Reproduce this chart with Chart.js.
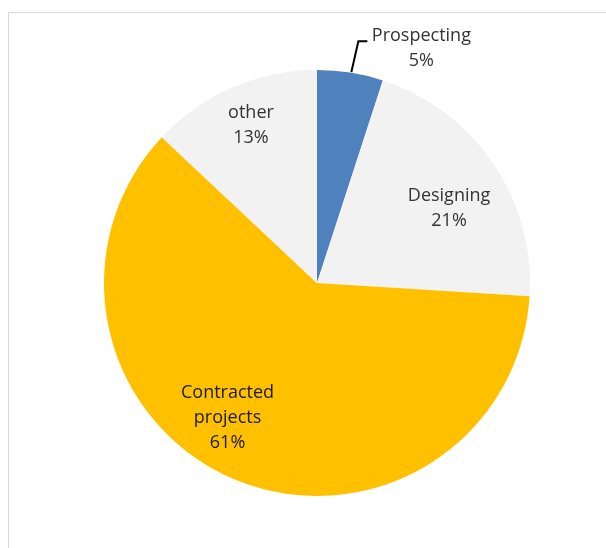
<!DOCTYPE html>
<html>
<head>
<meta charset="utf-8">
<script src="https://cdn.jsdelivr.net/npm/chart.js@4.4.0/dist/chart.umd.min.js"></script>
<style>
  body { margin: 0; background: #fff; }
  #wrap { position: relative; width: 606px; height: 548px; }
  #frame { position: absolute; left: 8px; top: 12px; width: 600px; height: 540px;
           border-left: 1px solid #d9d9d9; border-top: 1px solid #d9d9d9; }
  canvas { position: absolute; left: 0; top: 0; }
</style>
</head>
<body>
<div id="wrap">
  <div id="frame"></div>
  <canvas id="myChart" width="606" height="548"></canvas>
</div>
<script>
const categories = ["Prospecting", "Designing", "Contracted projects", "other"];
const shares = [5, 21, 61, 13];
const labelLines = [["Prospecting"], ["Designing"], ["Contracted", "projects"], ["other"]];
const sliceColors = ["#4f81bd", "#f2f2f2", "#ffc000", "#f2f2f2"];

// label anchors: offset from pie centre, in units of radius
const labelAnchors = [[0.49, -1.10], [0.62, -0.35], [-0.42, 0.635], [-0.31, -0.74]];

const sliceLabels = {
  id: 'sliceLabels',
  afterDatasetsDraw(chart) {
    const ctx = chart.ctx;
    const meta = chart.getDatasetMeta(0);
    ctx.save();
    ctx.font = '18px "Open Sans", "Noto Sans", sans-serif';
    ctx.textAlign = 'center';
    ctx.textBaseline = 'middle';
    meta.data.forEach((arc, i) => {
      const r = arc.outerRadius;
      const cx = arc.x + labelAnchors[i][0] * r;
      const cy = arc.y + labelAnchors[i][1] * r;
      const lines = labelLines[i].concat([shares[i] + '%']);
      const lh = 25;
      const top = cy - (lines.length - 1) * lh / 2;
      ctx.fillStyle = i == 2 ? '#1a1a1a' : '#333333';
      lines.forEach((t, k) => ctx.fillText(t, cx, top + k * lh));
      if (i == 0) {
        // leader line from label to slice
        ctx.strokeStyle = '#000';
        ctx.lineWidth = 2;
        ctx.beginPath();
        ctx.moveTo(cx - 54, top + 5);
        ctx.lineTo(cx - 63, top + 5);
        ctx.lineTo(cx - 70, arc.y - r + 2);
        ctx.stroke();
      }
    });
    ctx.restore();
  }
};

const data = {
  labels: categories,
  datasets: [{
    data: shares,
    backgroundColor: sliceColors,
    borderWidth: 0
  }]
};

const config = {
  type: 'pie',
  data: data,
  options: {
    responsive: false,
    animation: false,
    layout: { padding: { left: 104, right: 76, top: 70, bottom: 52 } },
    plugins: {
      legend: { display: false },
      tooltip: { enabled: false }
    }
  },
  plugins: [sliceLabels]
};

const myChart = new Chart(document.getElementById('myChart'), config);
</script>
</body>
</html>
